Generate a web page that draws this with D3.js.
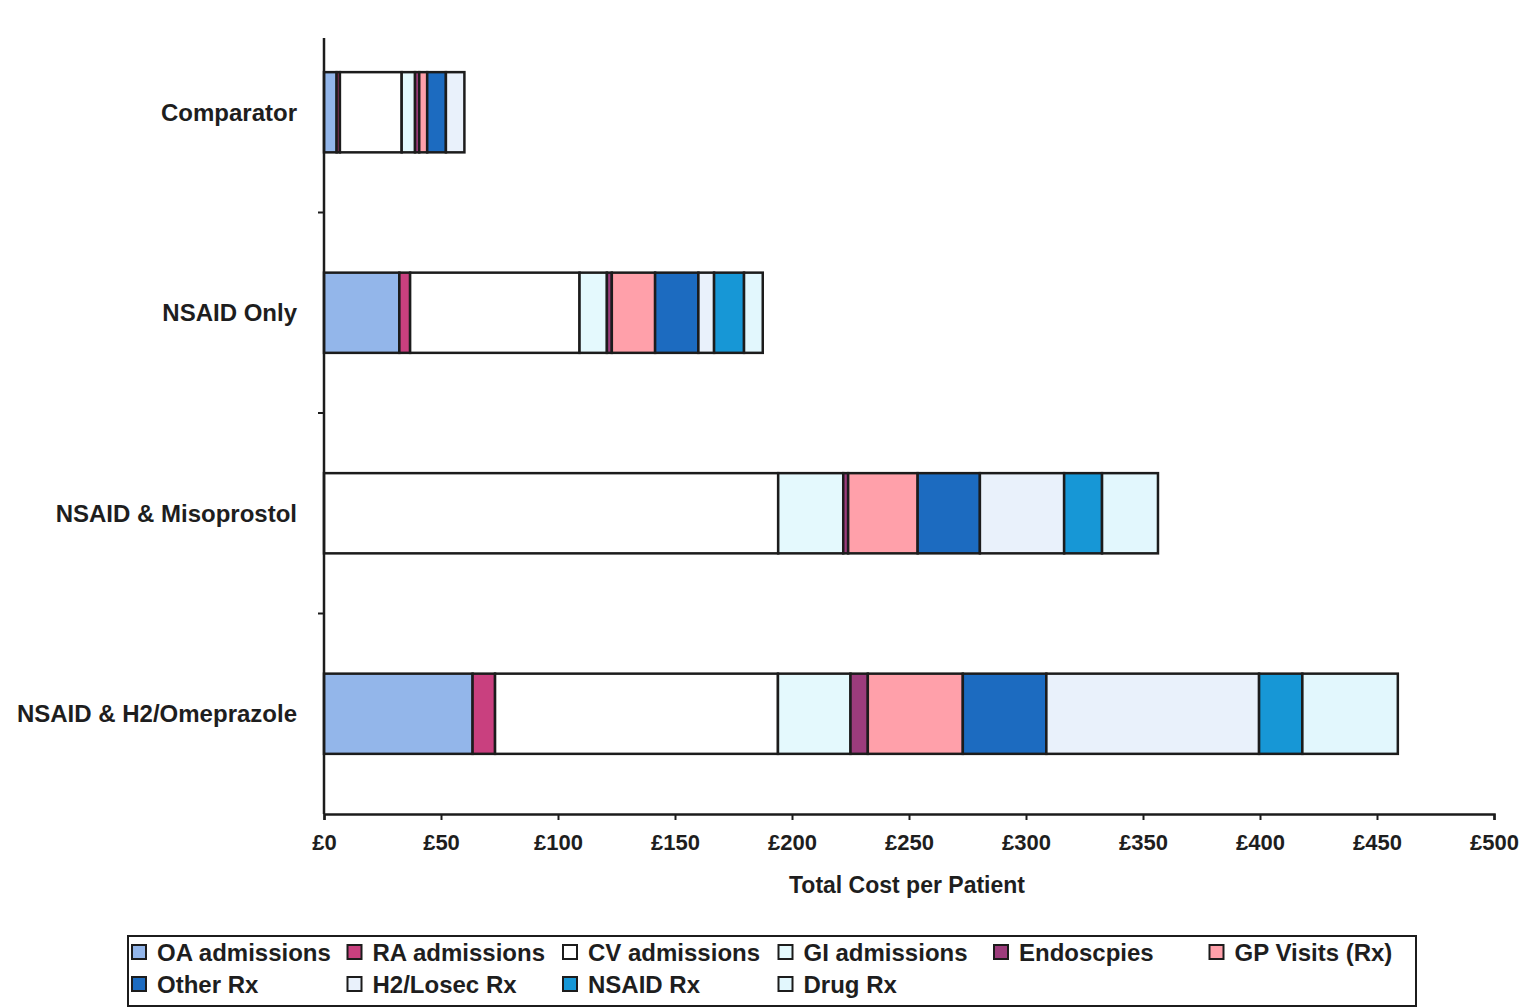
<!DOCTYPE html>
<html>
<head>
<meta charset="utf-8">
<script src="https://cdn.jsdelivr.net/npm/d3@7"></script>
<style>
  html, body { margin: 0; padding: 0; background: #fff; }
  svg { display: block; }
  text { font-family: "Liberation Sans", Arial, Helvetica, sans-serif; font-weight: bold; fill: #1e1e1e; }
</style>
</head>
<body>
<svg id="chart" width="1534" height="1008"></svg>
<script>
// Treatment strategies (one horizontal bar each)
const categories = ["Comparator", "NSAID Only", "NSAID & Misoprostol", "NSAID & H2/Omeprazole"];

// Cost components, £ per patient, in stacking order
const seriesNames = ["OA admissions", "RA admissions", "CV admissions", "GI admissions", "Endoscpies",
                     "GP Visits (Rx)", "Other Rx", "H2/Losec Rx", "NSAID Rx", "Drug Rx"];
const oaAdmissions = [5.4, 32.2, 0, 63.5];
const raAdmissions = [1.4, 4.6, 0, 9.6];
const cvAdmissions = [26.4, 72.4, 194.1, 120.9];
const giAdmissions = [5.7, 11.7, 27.8, 31.0];
const endoscopies  = [1.8, 2.1, 2.1, 7.4];
const gpVisits     = [3.4, 18.5, 29.7, 40.6];
const otherRx      = [8.0, 18.5, 26.6, 35.7];
const h2LosecRx    = [7.9, 6.7, 36.0, 90.9];
const nsaidRx      = [0, 12.8, 16.2, 18.5];
const drugRx       = [0, 8.0, 23.9, 40.8];

const seriesColors = ["#93b6ea", "#c9407f", "#ffffff", "#e4f9fd", "#9c3c7c",
                      "#ffa0aa", "#1c6bc0", "#e9f1fb", "#1797d6", "#e2f7fd"];

const xTicks = [0, 50, 100, 150, 200, 250, 300, 350, 400, 450, 500];
const xTitle = "Total Cost per Patient";

const seriesValues = [oaAdmissions, raAdmissions, cvAdmissions, giAdmissions, endoscopies,
                      gpVisits, otherRx, h2LosecRx, nsaidRx, drugRx];

// Table for d3.stack: one row per category
const rows = categories.map((c, i) => {
  const r = { category: c };
  seriesNames.forEach((s, j) => { r[s] = seriesValues[j][i]; });
  return r;
});

const svg = d3.select("#chart");
const plot = { left: 324, right: 1494, top: 12, bottom: 814 };

const x = d3.scaleLinear().domain([0, 500]).range([plot.left, plot.right]);
const y = d3.scaleBand().domain(categories).range([plot.top, plot.bottom])
  .paddingInner(0.6).paddingOuter(0.3);

const layers = d3.stack().keys(seriesNames)(rows);

const ink = "#1c1c1c";

// Stacked bars
const g = svg.append("g");
layers.forEach((layer, j) => {
  g.selectAll(null)
    .data(layer.filter(d => d[1] - d[0] > 0))
    .join("rect")
    .attr("x", d => x(d[0]))
    .attr("y", d => y(d.data.category))
    .attr("width", d => x(d[1]) - x(d[0]))
    .attr("height", y.bandwidth())
    .attr("fill", seriesColors[j])
    .attr("stroke", ink)
    .attr("stroke-width", 2.5);
});

// X axis
const xAxis = svg.append("g")
  .attr("transform", `translate(0,${plot.bottom})`)
  .call(d3.axisBottom(x).tickValues(xTicks).tickSize(6).tickPadding(14)
    .tickFormat(d => "£" + d));
xAxis.select(".domain").attr("stroke", ink).attr("stroke-width", 2.5);
xAxis.selectAll(".tick line").attr("stroke", ink).attr("stroke-width", 2);
xAxis.selectAll(".tick text").attr("font-size", 22).attr("fill", ink)
  .style("font-family", "'Liberation Sans', Arial, sans-serif").style("font-weight", "bold");

// Y axis: tick marks between categories, labels right-aligned beside it
const yAxis = svg.append("g").attr("transform", `translate(${plot.left},0)`);
yAxis.append("line")
  .attr("x1", 0).attr("x2", 0)
  .attr("y1", 38).attr("y2", plot.bottom)
  .attr("stroke", ink).attr("stroke-width", 2.5);
const step = y.step();
const boundaries = categories.map((c, i) => plot.top + i * step);
yAxis.selectAll(".ytick")
  .data(boundaries.slice(1))
  .join("line")
  .attr("x1", -6).attr("x2", 0)
  .attr("y1", d => d).attr("y2", d => d)
  .attr("stroke", ink).attr("stroke-width", 2);

svg.append("g").selectAll("text")
  .data(categories)
  .join("text")
  .attr("x", 297)
  .attr("y", d => y(d) + y.bandwidth() / 2)
  .attr("dy", "0.35em")
  .attr("text-anchor", "end")
  .attr("font-size", 24)
  .text(d => d);

// Axis title
svg.append("text")
  .attr("x", (plot.left + plot.right) / 2 - 2)
  .attr("y", 893)
  .attr("text-anchor", "middle")
  .attr("font-size", 23)
  .text(xTitle);

// Legend
const legend = svg.append("g");
legend.append("rect")
  .attr("x", 128).attr("y", 936).attr("width", 1288).attr("height", 70)
  .attr("fill", "#fff").attr("stroke", ink).attr("stroke-width", 2);
const perRow = 6;
const colW = 215.5;
const items = legend.selectAll("g.item")
  .data(seriesNames)
  .join("g")
  .attr("transform", (d, i) => `translate(${132 + (i % perRow) * colW},${952 + Math.floor(i / perRow) * 32})`);
items.append("rect")
  .attr("x", 0).attr("y", -7).attr("width", 14).attr("height", 14)
  .attr("fill", (d, i) => seriesColors[i])
  .attr("stroke", ink).attr("stroke-width", 2);
items.append("text")
  .attr("x", 25).attr("y", 0).attr("dy", "0.36em")
  .attr("font-size", 24)
  .text(d => d);
</script>
</body>
</html>
